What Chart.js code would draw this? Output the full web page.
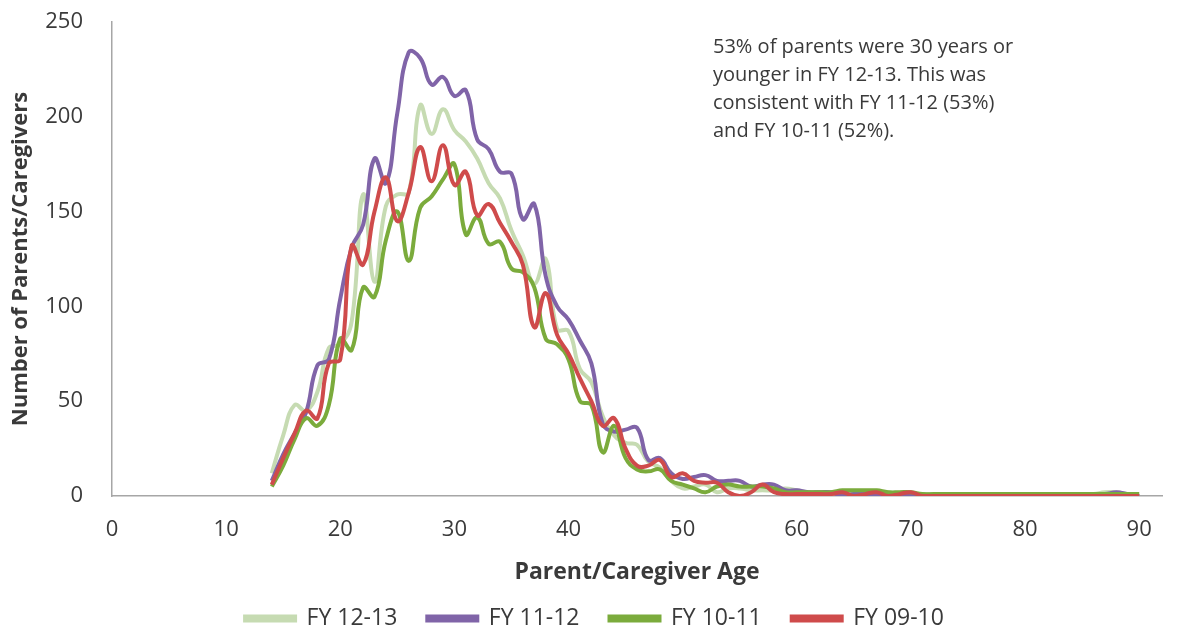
<!DOCTYPE html>
<html>
<head>
<meta charset="utf-8">
<title>Parent/Caregiver Age</title>
<script src="https://cdn.jsdelivr.net/npm/chart.js@4.4.1/dist/chart.umd.min.js"></script>
<style>
  html, body { margin: 0; padding: 0; background: #fff; }
  #wrap { width: 1189px; height: 635px; position: relative; }
</style>
</head>
<body>
<div id="wrap"><canvas id="ageChart"></canvas></div>
<script>
// ages on the x axis (14 to 90)
const ages = [14, 15, 16, 17, 18, 19, 20, 21, 22, 23, 24, 25, 26, 27, 28, 29, 30, 31, 32, 33,
  34, 35, 36, 37, 38, 39, 40, 41, 42, 43, 44, 45, 46, 47, 48, 49, 50, 51, 52, 53,
  54, 55, 56, 57, 58, 59, 60, 61, 62, 63, 64, 65, 66, 67, 68, 69, 70, 71, 72, 73,
  74, 75, 76, 77, 78, 79, 80, 81, 82, 83, 84, 85, 86, 87, 88, 89, 90];

const fy1213 = [12, 32, 48, 45, 55, 78, 80, 92, 159, 113, 153, 159, 160, 206, 191, 204, 193, 187, 178, 165,
  157, 140, 127, 112, 125, 88, 87, 67, 60, 42, 32, 28, 27, 18, 15, 8, 4, 5, 6, 2,
  4, 4, 3, 3, 3, 4, 3, 2, 2, 1, 2, 1, 2, 1, 2, 1, 1, 1, 1, 1,
  1, 1, 1, 1, 1, 1, 1, 1, 1, 1, 1, 1, 1, 2, 2, 1, 1];

const fy1112 = [8, 22, 33, 44, 69, 72, 104, 131, 143, 178, 165, 202, 234, 231, 217, 221, 211, 214, 188, 183,
  171, 170, 146, 154, 116, 100, 93, 82, 70, 38, 34, 35, 36, 19, 20, 12, 9, 10, 11, 8,
  8, 8, 5, 6, 6, 3, 3, 2, 2, 2, 0, 1, 1, 1, 1, 1, 1, 0, 0, 0,
  0, 0, 0, 0, 0, 0, 0, 0, 0, 0, 0, 0, 1, 1, 2, 1, 0];

const fy1011 = [5, 16, 30, 41, 37, 48, 83, 77, 110, 105, 135, 150, 124, 152, 158, 167, 175, 138, 147, 133,
  134, 120, 118, 110, 83, 80, 72, 50, 48, 23, 37, 20, 14, 13, 14, 8, 6, 4, 2, 5,
  6, 5, 5, 5, 4, 2, 2, 2, 2, 2, 3, 3, 3, 3, 2, 2, 2, 1, 1, 1,
  1, 1, 1, 1, 1, 1, 1, 1, 1, 1, 1, 1, 1, 1, 1, 1, 1];

const fy0910 = [6, 20, 33, 45, 41, 70, 72, 132, 122, 150, 168, 145, 160, 184, 166, 185, 164, 171, 148, 154,
  144, 134, 122, 89, 107, 85, 75, 62, 50, 37, 41, 25, 16, 16, 19, 10, 12, 8, 7, 7,
  2, 0, 2, 6, 2, 1, 1, 1, 1, 1, 2, 0, 1, 2, 0, 1, 2, 0, 0, 0,
  0, 0, 0, 0, 0, 0, 0, 0, 0, 0, 0, 0, 0, 0, 0, 0, 0];

const xTicks = [0, 10, 20, 30, 40, 50, 60, 70, 80, 90];
const yTicks = [0, 50, 100, 150, 200, 250];

const note = [
  '53% of parents were 30 years or',
  'younger in FY 12-13. This was',
  'consistent with FY 11-12 (53%)',
  'and FY 10-11 (52%).'
];

const textColor = '#3a3a3a';
const axisColor = '#a6a6a6';
const baseFont = 'Open Sans';

function series(label, values, color, order) {
  return {
    label: label,
    data: ages.map((a, i) => ({ x: a, y: values[i] })),
    borderColor: color,
    backgroundColor: color,
    borderWidth: 4,
    pointRadius: 0,
    tension: 0.45,
    order: order
  };
}

// text box in the upper right
const notePlugin = {
  id: 'note',
  afterDraw(chart) {
    const ctx = chart.ctx;
    ctx.save();
    ctx.fillStyle = textColor;
    ctx.font = '20px "' + baseFont + '"';
    ctx.textBaseline = 'middle';
    ctx.textAlign = 'left';
    note.forEach((line, i) => ctx.fillText(line, 713, 47 + i * 28));
    ctx.restore();
  }
};

const ctx = document.getElementById('ageChart').getContext('2d');
const chart = new Chart(ctx, {
  type: 'line',
  data: {
    datasets: [
      series('FY 12-13', fy1213, '#c6dbb2', 4),
      series('FY 11-12', fy1112, '#8064a8', 3),
      series('FY 10-11', fy1011, '#7bab3c', 2),
      series('FY 09-10', fy0910, '#cf4b4b', 1)
    ]
  },
  options: {
    responsive: true,
    maintainAspectRatio: false,
    animation: false,
    layout: { padding: { top: 22, right: 0, left: 0, bottom: -5 } },
    plugins: {
      tooltip: { enabled: false },
      legend: {
        position: 'bottom',
        labels: {
          sort: (a, b) => a.datasetIndex - b.datasetIndex,
          boxWidth: 50,
          boxHeight: 4,
          padding: 30,
          color: textColor,
          font: { family: baseFont, size: 23 }
        }
      }
    },
    scales: {
      x: {
        type: 'linear',
        min: 0,
        max: 92,
        afterBuildTicks: (scale) => { scale.ticks = xTicks.map(v => ({ value: v })); },
        afterFit: (scale) => { scale.height = 81; scale.paddingRight = 27; },
        grid: { display: false, drawTicks: false },
        border: { display: true, color: axisColor, width: 1.5 },
        ticks: { padding: 21, color: textColor, font: { family: baseFont, size: 22 }, maxRotation: 0 },
        title: {
          display: true,
          text: 'Parent/Caregiver Age',
          color: textColor,
          padding: { top: 0, bottom: -9 },
          font: { family: baseFont, size: 23, weight: 'bold' }
        }
      },
      y: {
        min: 0,
        max: 250,
        afterBuildTicks: (scale) => { scale.ticks = yTicks.map(v => ({ value: v })); },
        afterFit: (scale) => { scale.width = 112; scale.paddingTop = 0; scale.paddingBottom = 0; },
        grid: { display: false, drawTicks: false },
        border: { display: true, color: axisColor, width: 1.5 },
        ticks: { padding: 29, color: textColor, font: { family: baseFont, size: 22 } },
        title: {
          display: true,
          text: 'Number of Parents/Caregivers',
          color: textColor,
          padding: { top: 8, bottom: 0 },
          font: { family: baseFont, size: 22, weight: 'bold' }
        }
      }
    }
  },
  plugins: [notePlugin]
});
</script>
</body>
</html>
